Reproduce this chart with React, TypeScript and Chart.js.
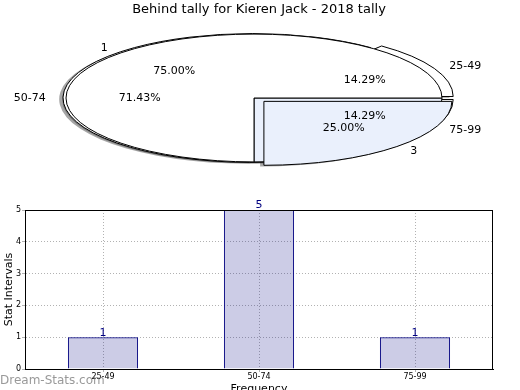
import React, { useEffect, useRef } from 'react';
import { Chart, registerables } from 'chart.js';

Chart.register(...registerables);

const chartTitle = 'Behind tally for Kieren Jack - 2018 tally';
// outer pie (drawn behind), clockwise from 3 o'clock
const outerLabels = ['75-99', '50-74', '25-49'];
const outerValues = [1, 5, 1];
// front pie, clockwise from 3 o'clock
const innerLabels = ['3', '1'];
const innerValues = [1, 3];
// bar chart
const barCategories = ['25-49', '50-74', '75-99'];
const barValues = [1, 5, 1];
const yTicks = [0, 1, 2, 3, 4, 5];

const FONT = '"DejaVu Sans", Verdana, sans-serif';
const K = 0.34; // vertical squash of the pie (tilt)

function geom(el: any) {
  const p = el.getProps(['x', 'y', 'startAngle', 'endAngle', 'outerRadius', 'circumference'], true);
  const half = (p.startAngle + p.endAngle) / 2;
  const off = (el.options.offset || 0) / 4;
  const fix = 1 - Math.sin(Math.min(Math.PI, p.circumference || 0));
  return { ...p, half, off, r: p.outerRadius + off * fix };
}

function wedgePath(ctx: CanvasRenderingContext2D, el: any, useOffset: boolean, dx = 0, dy = 0) {
  const g = geom(el);
  const off = useOffset ? g.off : 0;
  const r = useOffset ? g.r : g.outerRadius;
  const cx = g.x + Math.cos(g.half) * off + dx;
  const cy = g.y + Math.sin(g.half) * off * K + dy;
  ctx.beginPath();
  ctx.moveTo(cx, cy);
  ctx.ellipse(cx, cy, r, r * K, 0, g.startAngle, g.endAngle);
  ctx.closePath();
}

function drawPieLabels(ctx: CanvasRenderingContext2D, chart: any, labels: string[], values: number[]) {
  const meta = chart.getDatasetMeta(0);
  const total = values.reduce((a, b) => a + b, 0);
  ctx.save();
  ctx.fillStyle = '#000';
  ctx.font = `11px ${FONT}`;
  ctx.textBaseline = 'middle';
  meta.data.forEach((el: any, i: number) => {
    const g = geom(el);
    const c = Math.cos(g.half);
    const s = Math.sin(g.half);
    const cx = g.x + c * g.off;
    const cy = g.y + s * g.off * K;
    const R = g.outerRadius;
    ctx.textAlign = c > 0 ? 'left' : 'right';
    ctx.fillText(labels[i], cx + c * 1.1 * R, cy + s * 1.1 * R * K);
    ctx.textAlign = 'center';
    const pct = ((values[i] / total) * 100).toFixed(2) + '%';
    ctx.fillText(pct, cx + c * 0.6 * R, cy + s * 0.6 * R * K);
  });
  ctx.restore();
}

function makePiePlugin(opts: { shadows: () => any[]; ghost?: number }) {
  return {
    id: 'ellipsePie',
    beforeDatasetsDraw(chart: any) {
      const ctx = chart.ctx;
      const meta = chart.getDatasetMeta(0);
      ctx.save();
      ctx.fillStyle = 'rgba(77,77,77,0.5)';
      opts.shadows().forEach((c: any) => {
        if (!c) return;
        c.getDatasetMeta(0).data.forEach((el: any) => {
          wedgePath(ctx, el, true, -3.8, 1.3);
          ctx.fill();
        });
      });
      if (opts.ghost !== undefined) {
        const el = meta.data[opts.ghost];
        wedgePath(ctx, el, false);
        ctx.fillStyle = el.options.backgroundColor;
        ctx.fill();
        ctx.strokeStyle = '#000';
        ctx.lineWidth = 1;
        ctx.stroke();
      }
      ctx.restore();
      const { x, y } = meta.data[0];
      ctx.save();
      ctx.translate(x, y);
      ctx.scale(1, K);
      ctx.translate(-x, -y);
    },
    afterDatasetsDraw(chart: any) {
      const ctx = chart.ctx;
      ctx.restore();
      const meta = chart.getDatasetMeta(0);
      ctx.save();
      ctx.strokeStyle = '#000';
      ctx.lineWidth = 1;
      meta.data.forEach((el: any) => {
        wedgePath(ctx, el, true);
        ctx.stroke();
      });
      ctx.restore();
    },
  };
}

function pieConfig(labels: string[], values: number[], colors: string[], offsets: number[], plugins: any[]) {
  return {
    type: 'pie' as const,
    data: {
      labels,
      datasets: [
        {
          data: values,
          backgroundColor: colors,
          borderWidth: 0,
          offset: offsets,
          hoverOffset: 0,
          radius: 188,
          rotation: 90,
          clip: false,
        },
      ],
    },
    options: {
      responsive: false,
      animation: false as const,
      events: [],
      layout: { padding: { left: 0, right: 12, top: 0, bottom: 194 } },
      plugins: { legend: { display: false }, tooltip: { enabled: false }, title: { display: false } },
    },
    plugins,
  };
}

export default function App() {
  const aRef = useRef<HTMLCanvasElement>(null);
  const bRef = useRef<HTMLCanvasElement>(null);
  const barRef = useRef<HTMLCanvasElement>(null);

  useEffect(() => {
    document.body.style.margin = '0';
    const refs: any = {};

    refs.a = new Chart(
      aRef.current as HTMLCanvasElement,
      pieConfig(outerLabels, outerValues, ['#ffffff', '#ffffff', '#ffffff'], [40, 6, 40], [
        makePiePlugin({ shadows: () => [refs.a, refs.b] }),
      ]) as any
    );

    refs.b = new Chart(
      bRef.current as HTMLCanvasElement,
      pieConfig(innerLabels, innerValues, ['#eaf0fc', '#ffffff'], [56, 0], [
        makePiePlugin({ shadows: () => [], ghost: 0 }),
        {
          id: 'pieLabels',
          afterDraw(chart: any) {
            const ctx = chart.ctx;
            if (refs.a) drawPieLabels(ctx, refs.a, outerLabels, outerValues);
            drawPieLabels(ctx, chart, innerLabels, innerValues);
            ctx.save();
            ctx.fillStyle = '#000';
            ctx.font = `13px ${FONT}`;
            ctx.textAlign = 'center';
            ctx.textBaseline = 'middle';
            ctx.fillText(chartTitle, 259, 10);
            ctx.restore();
          },
        },
      ]) as any
    );
    refs.a.draw();

    const gridColor = 'rgba(0,0,0,0.3)';
    refs.bar = new Chart(barRef.current as HTMLCanvasElement, {
      type: 'bar',
      data: {
        labels: barCategories,
        datasets: [
          {
            data: barValues,
            backgroundColor: 'rgba(0,0,128,0.2)',
            borderColor: '#000080',
            borderWidth: 1,
            categoryPercentage: 1,
            barPercentage: 0.45,
          },
        ],
      },
      options: {
        responsive: false,
        animation: false,
        events: [],
        layout: { padding: { left: 0, right: 27, top: 210, bottom: 0 } },
        plugins: { legend: { display: false }, tooltip: { enabled: false } },
        scales: {
          x: {
            grid: { offset: false, color: gridColor, lineWidth: 1, tickLength: 3 },
            border: { display: true, color: '#000', dash: [1, 2] },
            ticks: { font: { family: FONT, size: 8 }, color: '#000', padding: 0, maxRotation: 0 },
            title: {
              display: true,
              text: 'Frequency',
              font: { family: FONT, size: 11 },
              color: '#000',
              padding: { top: 0, bottom: -6 },
            },
            afterFit: (s: any) => {
              s.height = 21;
            },
          },
          y: {
            min: 0,
            max: 5,
            afterBuildTicks: (s: any) => {
              s.ticks = yTicks.map((v) => ({ value: v }));
            },
            grid: { color: gridColor, lineWidth: 1, tickLength: 3 },
            border: { display: true, color: '#000', dash: [1, 2] },
            ticks: { font: { family: FONT, size: 8 }, color: '#000', padding: 1 },
            title: {
              display: true,
              text: 'Stat Intervals',
              font: { family: FONT, size: 11 },
              color: '#000',
              padding: { top: 3, bottom: 0 },
            },
            afterFit: (s: any) => {
              s.width = 25;
            },
          },
        },
      },
      plugins: [
        {
          id: 'frameAndLabels',
          afterDatasetsDraw(chart: any) {
            const ctx = chart.ctx;
            const a = chart.chartArea;
            ctx.save();
            ctx.strokeStyle = '#000';
            ctx.lineWidth = 1;
            ctx.strokeRect(Math.round(a.left) + 0.5, Math.round(a.top) + 0.5, Math.round(a.right - a.left) - 1, Math.round(a.bottom - a.top));
            const meta = chart.getDatasetMeta(0);
            ctx.fillStyle = '#000080';
            ctx.font = `11px ${FONT}`;
            ctx.textAlign = 'center';
            ctx.textBaseline = 'bottom';
            meta.data.forEach((bar: any, i: number) => {
              ctx.fillText(String(barValues[i]), bar.x, bar.y + 1);
            });
            ctx.restore();
          },
          afterDraw(chart: any) {
            const ctx = chart.ctx;
            ctx.save();
            ctx.fillStyle = 'rgba(110,110,110,0.7)';
            ctx.font = `12px ${FONT}`;
            ctx.textAlign = 'left';
            ctx.textBaseline = 'middle';
            ctx.fillText('Dream-Stats.com', 0, 381);
            ctx.restore();
          },
        },
      ],
    } as any);

    return () => {
      refs.bar.destroy();
      refs.b.destroy();
      refs.a.destroy();
    };
  }, []);

  const cs: React.CSSProperties = { position: 'absolute', left: 0, top: 0 };
  return (
    <div style={{ position: 'fixed', left: 0, top: 0, width: 520, height: 390, background: '#fff' }}>
      <canvas ref={aRef} width={520} height={390} style={cs} />
      <canvas ref={bRef} width={520} height={390} style={cs} />
      <canvas ref={barRef} width={520} height={390} style={cs} />
    </div>
  );
}
